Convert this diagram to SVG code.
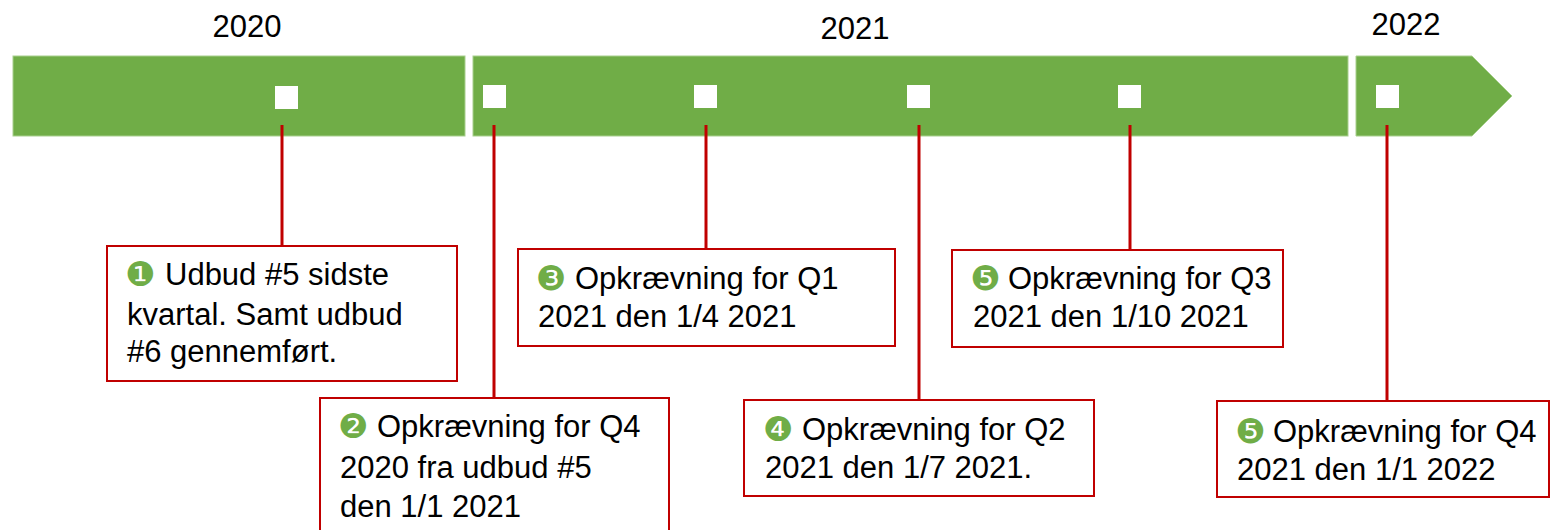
<svg xmlns="http://www.w3.org/2000/svg" width="1551" height="530" viewBox="0 0 1551 530">
<style>
.bar{fill:#70AD47;stroke:#A8CF8E;stroke-width:1}
.sq{fill:#FFFFFF}
.box{fill:#FFFFFF;stroke:#C00000;stroke-width:2}
.conn{stroke:#C00000;stroke-width:3;fill:none}
.yr{font-family:"Liberation Sans",Arial,sans-serif;font-size:31px;fill:#000;text-anchor:middle}
.t{font-family:"Liberation Sans",Arial,sans-serif;font-size:31px;fill:#000}
.n{font-family:"DejaVu Sans",sans-serif;font-size:34px;fill:#70AD47}
</style>
<rect width="1551" height="530" fill="#FFFFFF"/>
<g id="timeline">
<rect class="bar" x="13" y="56" width="452" height="80"/>
<rect class="bar" x="473" y="56" width="875" height="80"/>
<polygon class="bar" points="1356,56 1472,56 1512,96 1472,136 1356,136"/>
<rect class="sq" x="275" y="86" width="23" height="23"/>
<rect class="sq" x="483" y="85" width="23" height="23"/>
<rect class="sq" x="694" y="85" width="23" height="23"/>
<rect class="sq" x="907" y="85" width="23" height="23"/>
<rect class="sq" x="1118" y="85" width="23" height="23"/>
<rect class="sq" x="1376" y="85" width="23" height="23"/>
</g>
<g id="years">
<text class="yr" x="247" y="37">2020</text>
<text class="yr" x="855" y="39">2021</text>
<text class="yr" x="1406" y="35">2022</text>
</g>
<g id="connectors">
<line class="conn" x1="282" y1="125" x2="282" y2="246"/>
<line class="conn" x1="494" y1="125" x2="494" y2="398"/>
<line class="conn" x1="706" y1="125" x2="706" y2="249"/>
<line class="conn" x1="919" y1="125" x2="919" y2="400"/>
<line class="conn" x1="1130" y1="125" x2="1130" y2="250"/>
<line class="conn" x1="1387" y1="125" x2="1387" y2="401"/>
</g>
<g id="node1">
<rect class="box" x="107" y="246" width="350" height="135"/>
<text class="n" x="125" y="286">❶</text>
<text class="t" x="165" y="285">Udbud #5 sidste</text>
<text class="t" x="127" y="325">kvartal. Samt udbud</text>
<text class="t" x="127" y="362">#6 gennemført.</text>
</g>
<g id="node2">
<rect class="box" x="320" y="398" width="349" height="140"/>
<text class="n" x="338" y="438">❷</text>
<text class="t" x="377" y="437">Opkrævning for Q4</text>
<text class="t" x="340" y="478">2020 fra udbud #5</text>
<text class="t" x="340" y="517">den 1/1 2021</text>
</g>
<g id="node3">
<rect class="box" x="518" y="249" width="377" height="97"/>
<text class="n" x="536" y="290">❸</text>
<text class="t" x="575" y="289">Opkrævning for Q1</text>
<text class="t" x="538" y="327">2021 den 1/4 2021</text>
</g>
<g id="node4">
<rect class="box" x="744" y="400" width="350" height="96"/>
<text class="n" x="763" y="441">❹</text>
<text class="t" x="802" y="440">Opkrævning for Q2</text>
<text class="t" x="765" y="478">2021 den 1/7 2021.</text>
</g>
<g id="node5">
<rect class="box" x="952" y="250" width="331" height="97"/>
<text class="n" x="970" y="290">❺</text>
<text class="t" x="1008" y="289">Opkrævning for Q3</text>
<text class="t" x="973" y="327">2021 den 1/10 2021</text>
</g>
<g id="node6">
<rect class="box" x="1217" y="401" width="332" height="96"/>
<text class="n" x="1235" y="443">❺</text>
<text class="t" x="1273" y="442">Opkrævning for Q4</text>
<text class="t" x="1237" y="480">2021 den 1/1 2022</text>
</g>
</svg>
